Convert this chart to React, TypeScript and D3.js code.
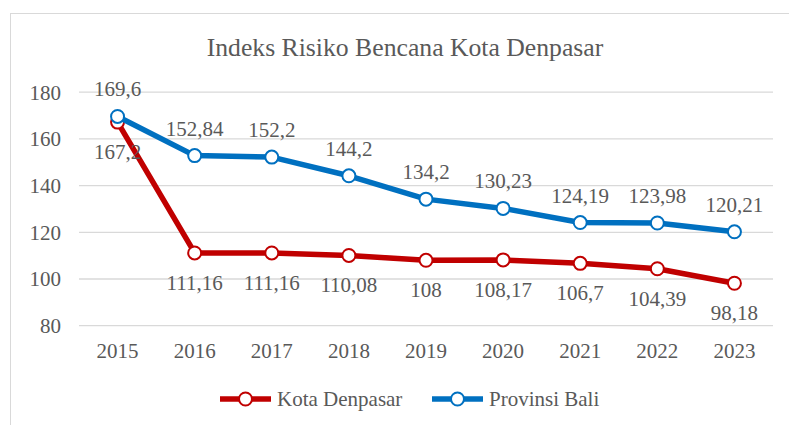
import * as d3 from "d3";
import { useEffect, useRef } from "react";

const years = ["2015", "2016", "2017", "2018", "2019", "2020", "2021", "2022", "2023"];
const kotaDenpasar = [167.2, 111.16, 111.16, 110.08, 108, 108.17, 106.7, 104.39, 98.18];
const provinsiBali = [169.6, 152.84, 152.2, 144.2, 134.2, 130.23, 124.19, 123.98, 120.21];
const yTicks = [80, 100, 120, 140, 160, 180];

type Series = { name: string; values: number[]; color: string; labelPos: "above" | "below" };

const series: Series[] = [
    { name: "Kota Denpasar", values: kotaDenpasar, color: "#C00000", labelPos: "below" },
    { name: "Provinsi Bali", values: provinsiBali, color: "#0070C0", labelPos: "above" },
];

const fmt = (v: number) => String(v).replace(".", ",");

export default function App() {
    const ref = useRef<SVGSVGElement | null>(null);

    useEffect(() => {
        if (!ref.current) return;
        const width = 789;
        const height = 425;
        const margin = { top: 92, right: 16, bottom: 100, left: 79 };
        const font = "'Liberation Serif', Cambria, serif";
        const textColor = "#595959";

        const svg = d3.select(ref.current);
        svg.selectAll("*").remove();

        // chart frame
        svg.append("rect")
            .attr("x", 10.5).attr("y", 13.5)
            .attr("width", 790).attr("height", 420)
            .attr("fill", "white").attr("stroke", "#D9D9D9");

        svg.append("text")
            .attr("x", 405).attr("y", 56)
            .attr("text-anchor", "middle")
            .attr("font-family", font).attr("font-size", 25.7)
            .attr("fill", textColor)
            .text("Indeks Risiko Bencana Kota Denpasar");

        const x = d3.scaleBand<string>()
            .domain(years)
            .range([margin.left, width - margin.right]);

        const y = d3.scaleLinear()
            .domain([80, 180])
            .range([325.7, 92.2]);

        const cx = (i: number) => (x(years[i]) ?? 0) + x.bandwidth() / 2;

        // gridlines
        svg.append("g")
            .selectAll("line")
            .data(yTicks)
            .join("line")
            .attr("x1", margin.left).attr("x2", width - margin.right)
            .attr("y1", (d) => y(d)).attr("y2", (d) => y(d))
            .attr("stroke", "#D9D9D9").attr("stroke-width", 1.3);

        // y labels
        svg.append("g")
            .selectAll("text")
            .data(yTicks)
            .join("text")
            .attr("x", 61).attr("y", (d) => y(d))
            .attr("dy", "0.35em")
            .attr("text-anchor", "end")
            .attr("font-family", font).attr("font-size", 21)
            .attr("fill", textColor)
            .text((d) => d);

        // x labels
        svg.append("g")
            .selectAll("text")
            .data(years)
            .join("text")
            .attr("x", (_, i) => cx(i)).attr("y", 358)
            .attr("text-anchor", "middle")
            .attr("font-family", font).attr("font-size", 21)
            .attr("fill", textColor)
            .text((d) => d);

        const line = d3.line<number>()
            .x((_, i) => cx(i))
            .y((d) => y(d));

        for (const s of series) {
            const g = svg.append("g");
            g.append("path")
                .datum(s.values)
                .attr("d", line)
                .attr("fill", "none")
                .attr("stroke", s.color)
                .attr("stroke-width", 5.5)
                .attr("stroke-linejoin", "round");
            g.selectAll("circle")
                .data(s.values)
                .join("circle")
                .attr("cx", (_, i) => cx(i)).attr("cy", (d) => y(d))
                .attr("r", 6.5)
                .attr("fill", "white")
                .attr("stroke", s.color).attr("stroke-width", 2);
        }

        for (const s of series) {
            svg.append("g")
                .selectAll("text")
                .data(s.values)
                .join("text")
                .attr("x", (_, i) => cx(i))
                .attr("y", (d) => (s.labelPos === "above" ? y(d) - 20 : y(d) + 37))
                .attr("text-anchor", "middle")
                .attr("font-family", font).attr("font-size", 21)
                .attr("fill", textColor)
                .text((d) => fmt(d));
        }

        // legend
        const legendX = [220, 432];
        series.forEach((s, i) => {
            const g = svg.append("g").attr("transform", `translate(${legendX[i]},399)`);
            g.append("line")
                .attr("x1", 0).attr("x2", 51)
                .attr("stroke", s.color).attr("stroke-width", 5.5);
            g.append("circle")
                .attr("cx", 25.5).attr("r", 6.5)
                .attr("fill", "white")
                .attr("stroke", s.color).attr("stroke-width", 2);
            g.append("text")
                .attr("x", 57).attr("y", 0).attr("dy", "0.35em")
                .attr("font-family", font).attr("font-size", 21)
                .attr("fill", textColor)
                .text(s.name);
        });
    }, []);

    return <svg ref={ref} width={789} height={425} style={{ display: "block", position: "absolute", left: 0, top: 0 }}></svg>;
}
